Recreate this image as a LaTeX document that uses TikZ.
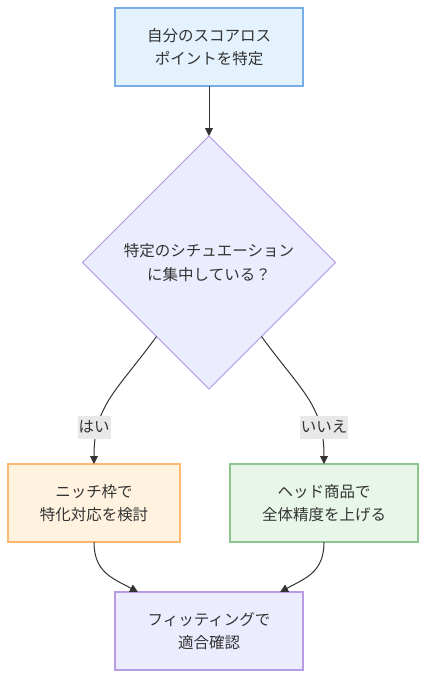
\documentclass[tikz,border=0pt]{standalone}
\usepackage{fontspec}
\newfontfamily\jp{Noto Sans CJK JP}
\usetikzlibrary{shapes.geometric,arrows.meta,calc}
\definecolor{txt}{HTML}{333333}
\definecolor{edge}{HTML}{333333}
\definecolor{lblbg}{HTML}{E8E8E8}
\definecolor{topfill}{HTML}{E3F2FD}
\definecolor{topdraw}{HTML}{78AEE8}
\definecolor{diafill}{HTML}{ECECFF}
\definecolor{diadraw}{HTML}{AE94E2}
\definecolor{leftfill}{HTML}{FFF3E0}
\definecolor{leftdraw}{HTML}{FFB870}
\definecolor{rightfill}{HTML}{E8F5E9}
\definecolor{rightdraw}{HTML}{8DC48F}
\definecolor{botfill}{HTML}{ECECFF}
\definecolor{botdraw}{HTML}{B79BE5}
\begin{document}
\begin{tikzpicture}[x=1pt,y=-1pt,
  every node/.style={font=\jp\fontsize{15.5}{23.5}\selectfont,text=txt,align=center},
  box/.style={rectangle,line width=1.5pt,inner sep=0pt,outer sep=0pt},
  decision/.style={diamond,line width=1pt,inner sep=0pt,outer sep=0pt,minimum width=253pt,minimum height=253pt,aspect=1},
  lbl/.style={fill=lblbg,inner xsep=1pt,inner ysep=0pt,minimum height=23pt,font=\jp\fontsize{15.5}{17}\selectfont},
  conn/.style={draw=edge,line width=1pt,-{Triangle[length=8pt,width=8pt]}}]
\useasboundingbox (0,0) rectangle (426,678);
\node[box,fill=topfill,draw=topdraw,minimum width=188pt,minimum height=78pt] (start) at (209,47) {自分のスコアロス\\ポイントを特定};
\node[decision,fill=diafill,draw=diadraw] (dia) at (209,262.5) {特定のシチュエーション\\に集中している？};
\node[box,fill=leftfill,draw=leftdraw,minimum width=172pt,minimum height=78pt] (niche) at (94,503) {ニッチ枠で\\特化対応を検討};
\node[box,fill=rightfill,draw=rightdraw,minimum width=188pt,minimum height=78pt] (head) at (324,503) {ヘッド商品で\\全体精度を上げる};
\node[box,fill=botfill,draw=botdraw,minimum width=188pt,minimum height=78pt] (fit) at (209,631) {フィッティングで\\適合確認};
\coordinate (dl) at ($(dia.west)!0.585!(dia.south)$);
\coordinate (dr) at ($(dia.east)!0.585!(dia.south)$);
\draw[conn] (start.south) -- (dia.north);
\draw[conn] (dl) .. controls (116,392) and (94,405) .. (niche.north);
\draw[conn] (dr) .. controls (302,392) and (324,405) .. (head.north);
\node[lbl] (yes) at (94,427) {はい};
\node[lbl] (no) at (324,427) {いいえ};
\draw[conn] (niche.south) .. controls (94,572) and (112,578) .. ($(fit.north west)!0.122!(fit.north east)$);
\draw[conn] (head.south) .. controls (324,572) and (306,578) .. ($(fit.north east)!0.122!(fit.north west)$);
\end{tikzpicture}
\end{document}
